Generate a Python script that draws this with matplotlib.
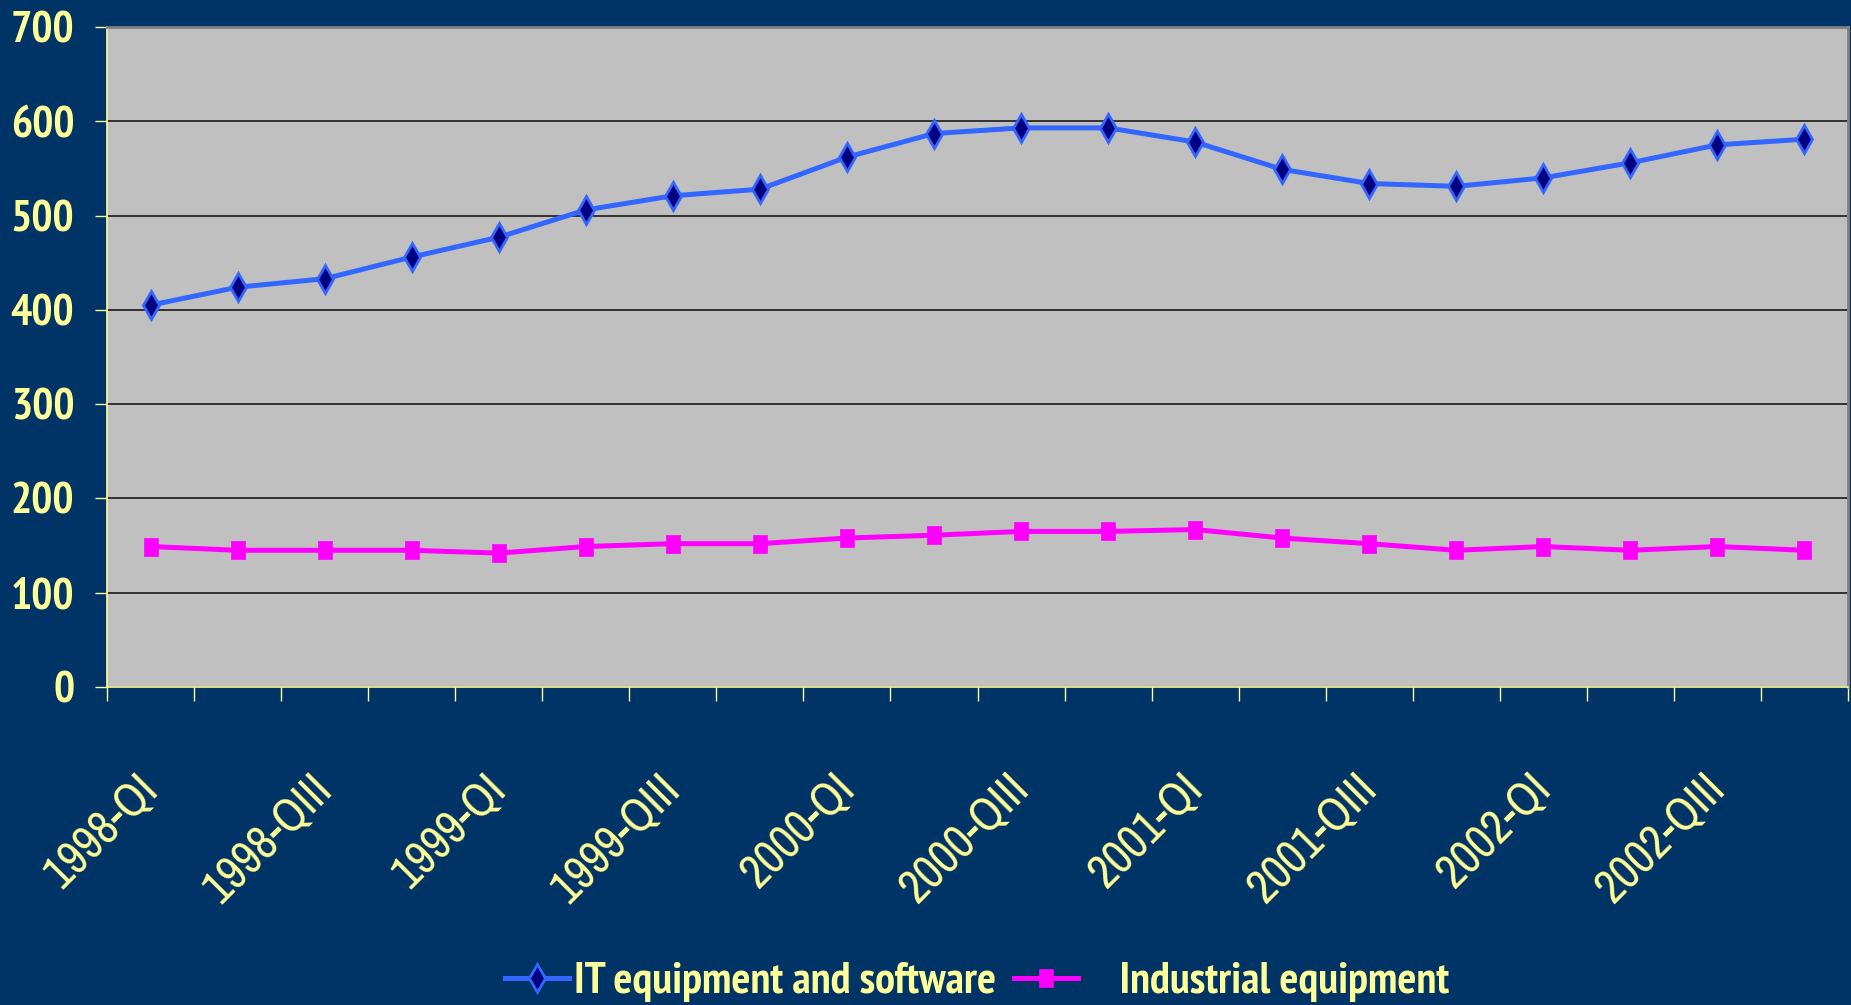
import matplotlib
matplotlib.use('Agg')
import matplotlib.pyplot as plt
from matplotlib import font_manager
import numpy as np

quarters = ['1998-QI', '1998-QII', '1998-QIII', '1998-QIV',
            '1999-QI', '1999-QII', '1999-QIII', '1999-QIV',
            '2000-QI', '2000-QII', '2000-QIII', '2000-QIV',
            '2001-QI', '2001-QII', '2001-QIII', '2001-QIV',
            '2002-QI', '2002-QII', '2002-QIII', '2002-QIV']
it_equipment = [405, 424, 433, 456, 477, 506, 521, 528, 562, 587,
                593, 593, 578, 549, 534, 531, 540, 556, 575, 581]
industrial = [149, 145, 145, 145, 142, 149, 152, 152, 158, 161,
              165, 165, 167, 158, 152, 145, 149, 145, 149, 145]
y_ticks = [0, 100, 200, 300, 400, 500, 600, 700]

navy = '#003366'
pale = '#FFFF99'
NARROW = ['Liberation Sans Narrow', 'Archivo Narrow', 'PT Sans Narrow',
          'Roboto Condensed', 'IBM Plex Sans Condensed', 'Open Sans Condensed']


def pick_font(candidates, weight=None):
    fonts = font_manager.fontManager.ttflist
    for name in candidates:
        if any(f.name == name and (weight is None or f.weight == weight)
               for f in fonts):
            return [name, 'DejaVu Sans']
    return ['DejaVu Sans']


narrow = pick_font(NARROW)
narrow_bold = pick_font(NARROW, 700)

fig = plt.figure(figsize=(18.51, 10.05), dpi=100, facecolor=navy)
ax = fig.add_axes([107 / 1851, 1 - 687 / 1005, 1741 / 1851, 660 / 1005])
ax.set_facecolor('#C0C0C0')

x = np.arange(len(quarters)) + 0.5
ax.plot(x, it_equipment, color='#3366FF', lw=3.6, marker='d', ms=14,
        mfc='#000080', mec='#3366FF', mew=2, label='IT equipment and software',
        clip_on=False, zorder=3)
rect = [(-0.38, -0.5), (0.38, -0.5), (0.38, 0.5), (-0.38, 0.5), (-0.38, -0.5)]
ax.plot(x, industrial, color='#FF00FF', lw=3.6, marker=rect, ms=13,
        mfc='#FF00FF', mec='#FF00FF', mew=0.5, label='    Industrial equipment',
        clip_on=False, zorder=3)

ax.set_xlim(0, len(quarters))
ax.set_ylim(0, 700)

# y axis
ax.set_yticks(y_ticks)
ax.set_yticklabels([str(v) for v in y_ticks], fontfamily=narrow_bold,
                   fontweight='bold', fontsize=32, color=pale)
ax.tick_params(axis='y', direction='out', length=8.6, width=1, color=pale, pad=15)
ax.yaxis.grid(True, color='#1a1a1a', lw=1.2)
ax.set_axisbelow(True)

# x axis: marks between quarters, labels on every other quarter
ax.set_xticks(np.arange(len(quarters) + 1), minor=True)
ax.set_xticks(x[::2])
ax.set_xticklabels(quarters[::2], fontfamily=narrow, fontsize=34, color=pale)
ax.tick_params(axis='x', which='minor', direction='out', length=10, width=1, color=pale)
ax.tick_params(axis='x', which='major', length=0, pad=68)
plt.setp(ax.get_xticklabels(), rotation=45, ha='right', va='center',
         rotation_mode='anchor')

for side in ('left', 'bottom'):
    ax.spines[side].set_color(pale)
    ax.spines[side].set_linewidth(1.2)
for side in ('top', 'right'):
    ax.spines[side].set_color('#808080')
    ax.spines[side].set_linewidth(2)

leg = fig.legend(loc='center', bbox_to_anchor=(977 / 1851, 1 - 982 / 1005),
                 ncol=2, frameon=False, handlelength=1.45, handletextpad=0.1,
                 columnspacing=0.4, borderaxespad=0,
                 prop={'family': narrow_bold, 'weight': 'bold', 'size': 32})
for t in leg.get_texts():
    t.set_color(pale)

fig.savefig('out.png', dpi=100, facecolor=navy)
